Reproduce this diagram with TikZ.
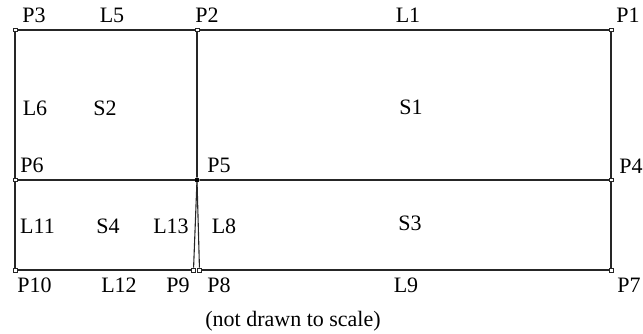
\documentclass[tikz,border=0pt]{standalone}
\usepackage{fontspec}
\setmainfont{Liberation Serif}
\begin{document}
\begin{tikzpicture}[x=1pt, y=-1pt, every node/.style={font=\fontsize{22}{24}\selectfont},
	pt/.style={draw=black!85, fill=white, rectangle, inner sep=0pt, minimum size=3.8pt, line width=0.8pt},
	jt/.style={draw=black, fill=black, circle, inner sep=0pt, minimum size=4.6pt},
	edge/.style={line width=1.1pt, black!85}]
	\useasboundingbox (0,0) rectangle (643,334);
	
	% 1. 端点 (P1 ... P10)
	\node[pt] (p3) at (15,30) {};
	\node[pt] (p2) at (197,30) {};
	\node[pt] (p1) at (611,30) {};
	\node[pt] (p6) at (15,180) {};
	\node[jt] (p5) at (197,180) {};
	\node[pt] (p4) at (611,180) {};
	\node[pt] (p10) at (15,270) {};
	\node[pt] (p9) at (193.5,270) {};
	\node[pt] (p8) at (199.5,270) {};
	\node[pt] (p7) at (611,270) {};
	
	% 2. 边界线
	\draw[edge] (p3) -- (p2);
	\draw[edge] (p2) -- (p1);
	\draw[edge] (p3) -- (p6);
	\draw[edge] (p2) -- (p5);
	\draw[edge] (p1) -- (p4);
	\draw[edge] (p6) -- (p5);
	\draw[edge] (p5) -- (p4);
	\draw[edge] (p6) -- (p10);
	\draw[edge] (p10) -- (p9);
	\draw[edge] (p9) -- (p5);
	\draw[edge] (p5) -- (p8);
	\draw[edge] (p8) -- (p7);
	\draw[edge] (p4) -- (p7);
	
	% 3. 点、线、面标号
	\node (lP3) at (34,15) {P3};
	\node (lL5) at (112,15) {L5};
	\node (lP2) at (207,15) {P2};
	\node (lL1) at (408,15) {L1};
	\node (lP1) at (628,15) {P1};
	\node (lL6) at (35,108) {L6};
	\node (lS2) at (105,108) {S2};
	\node (lS1) at (411,107) {S1};
	\node (lP6) at (32,165) {P6};
	\node (lP5) at (219,165) {P5};
	\node (lP4) at (631,166) {P4};
	\node (lL11) at (37.5,226) {L11};
	\node (lS4) at (108,226) {S4};
	\node (lL13) at (171,226) {L13};
	\node (lL8) at (224,226) {L8};
	\node (lS3) at (410,223) {S3};
	\node (lP10) at (34.5,285) {P10};
	\node (lL12) at (119,285) {L12};
	\node (lP9) at (178,285) {P9};
	\node (lP8) at (219,285) {P8};
	\node (lL9) at (406,285) {L9};
	\node (lP7) at (629,285) {P7};
	
	% 4. 注释
	\node (note) at (293,321) {(not drawn to scale)};
\end{tikzpicture}
\end{document}
